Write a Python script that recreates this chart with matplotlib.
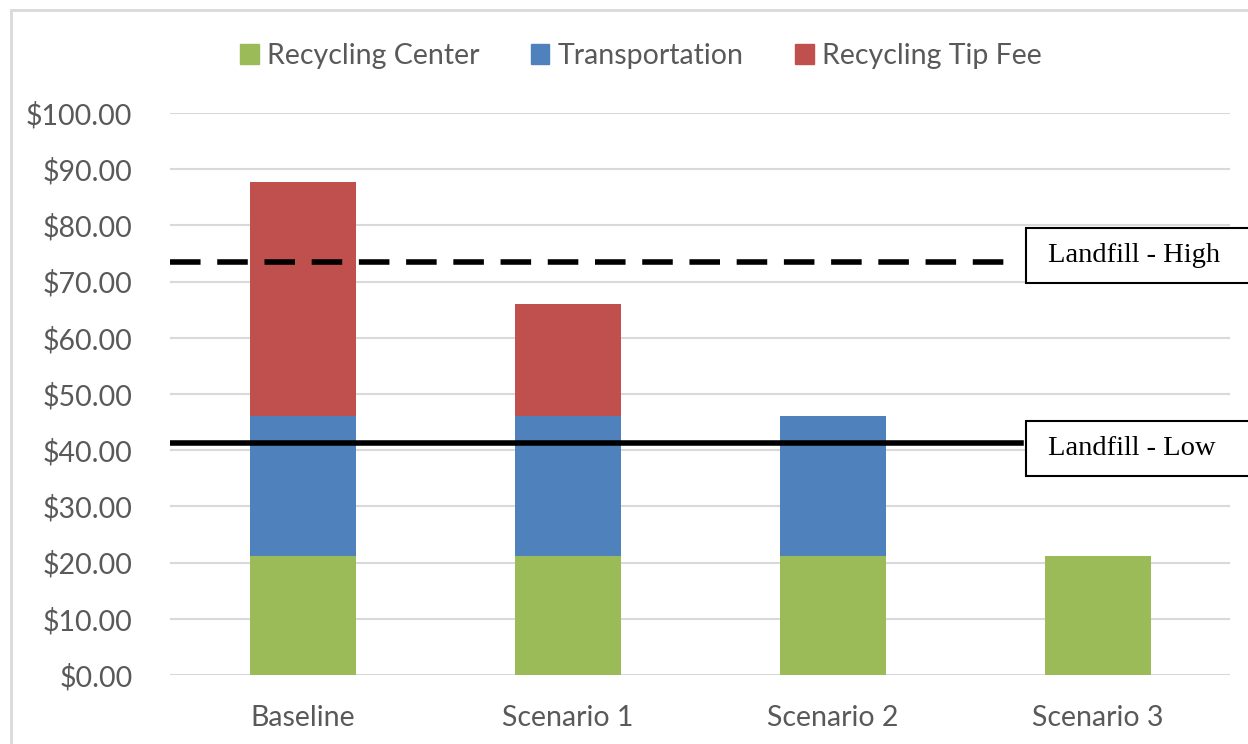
import matplotlib
matplotlib.use("Agg")
import matplotlib.pyplot as plt
from matplotlib.patches import Patch, Rectangle

scenarios = ["Baseline", "Scenario 1", "Scenario 2", "Scenario 3"]
recycling_center = [21.2, 21.2, 21.2, 21.2]
transportation = [24.9, 24.9, 24.9, 0.0]
tip_fee = [41.6, 19.9, 0.0, 0.0]
landfill_high = 73.5
landfill_low = 41.3
yticks = [0, 10, 20, 30, 40, 50, 60, 70, 80, 90, 100]

green = "#9BBB59"
blue = "#4F81BD"
red = "#C0504D"
grey_text = "#595959"

plt.rcParams["font.family"] = ["Lato", "DejaVu Sans"]

fig = plt.figure(figsize=(12.48, 7.44), dpi=100)
ax = fig.add_axes([170 / 1248, 1 - 675 / 744, 1060 / 1248, 562 / 744])

# chart area border (extends past the right/bottom edge)
fig.add_artist(Rectangle((11 / 1248, -0.1), 1.2, 1.1 - 10 / 744,
                         transform=fig.transFigure, fill=False,
                         edgecolor="#d9d9d9", linewidth=2))

x = range(len(scenarios))
w = 0.4
ax.bar(x, recycling_center, w, color=green, zorder=2)
ax.bar(x, transportation, w, bottom=recycling_center, color=blue, zorder=2)
bottom2 = [a + b for a, b in zip(recycling_center, transportation)]
ax.bar(x, tip_fee, w, bottom=bottom2, color=red, zorder=2)

ax.set_xlim(-0.5, 3.5)
ax.set_ylim(0, 100)
ax.set_yticks(yticks)
ax.set_yticklabels(["${:.2f}".format(v) for v in yticks])
ax.set_xticks(list(x))
ax.set_xticklabels(scenarios)
ax.grid(axis="y", color="#d9d9d9", linewidth=1.5, zorder=0)
for s in ax.spines.values():
    s.set_visible(False)
ax.tick_params(axis="both", length=0, labelsize=20.5, colors=grey_text)
ax.tick_params(axis="y", pad=27)
ax.tick_params(axis="x", pad=21.5)

# landfill reference lines
ax.plot([-0.5, 2.67], [landfill_high, landfill_high], color="black",
        linewidth=4, dashes=(5.5, 3), zorder=3)
ax.plot([-0.5, 2.71], [landfill_low, landfill_low], color="black",
        linewidth=4, zorder=3)

for val, label in [(74.6, "Landfill - High"), (40.3, "Landfill - Low")]:
    ax.add_patch(Rectangle((2.732, val - 4.9), 1.0, 9.8, facecolor="white",
                           edgecolor="black", linewidth=1.5, clip_on=False, zorder=4))
    ax.text(2.815, val, label, family="Liberation Serif", fontsize=20.5,
            va="center", ha="left", color="black", zorder=5)

handles = [Patch(color=green, label="Recycling Center"),
           Patch(color=blue, label="Transportation"),
           Patch(color=red, label="Recycling Tip Fee")]
leg = fig.legend(handles=handles, loc="center", bbox_to_anchor=(641 / 1248, 1 - 56 / 744),
                 ncol=3, frameon=False, fontsize=20.5, handlelength=0.65,
                 handleheight=0.65, handletextpad=0.3, columnspacing=1.8)
for t in leg.get_texts():
    t.set_color(grey_text)

fig.savefig("out.png", dpi=100)
plt.close(fig)
